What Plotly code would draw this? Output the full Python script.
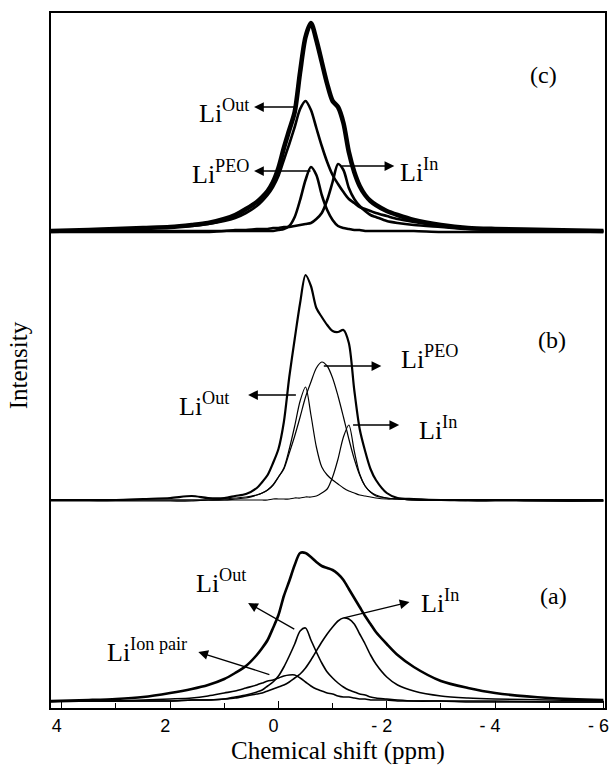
import plotly.graph_objects as go

# Chemical shift grid (ppm) shared by every curve
SHIFT = [4.2, 3.5, 3.0, 2.5, 2.0, 1.6, 1.3, 1.0, 0.8, 0.6, 0.4, 0.3, 0.2, 0.1, 0.0,
         -0.1, -0.2, -0.3, -0.4, -0.5, -0.6, -0.7, -0.8, -0.9, -1.0, -1.1, -1.2,
         -1.3, -1.4, -1.5, -1.6, -1.7, -1.8, -2.0, -2.2, -2.5, -3.0, -3.5, -4.0,
         -5.0, -6.0]

# (c) measured spectrum and its fitted components (intensity above baseline)
C_TOTAL = [1, 2, 3, 4, 5, 7, 9, 13, 17, 23, 30, 35, 41, 50, 64, 84, 102, 120, 160, 195,
           209, 192, 170, 148, 131, 125, 109, 80, 60, 46, 37, 31, 27, 21, 17, 12, 7, 4, 3, 2, 1]
C_OUT = [1, 2, 3, 4, 5, 6, 8, 11, 14, 19, 26, 31, 37, 45, 56, 72, 88, 105, 123, 131,
         122, 104, 86, 70, 57, 48, 40, 33, 29, 25, 23, 21, 19, 16, 13, 10, 6, 4, 3, 2, 1]
C_PEO = [0, 0, 0, 0, 0, 0, 0, 1, 1, 1, 1, 1, 1, 1, 2, 3, 6, 15, 32, 52,
         65, 57, 37, 22, 12, 6, 4, 3, 2, 2, 1, 1, 1, 1, 1, 1, 0, 0, 0, 0, 0]
C_IN = [1, 1, 1, 1, 1, 1, 1, 1, 2, 2, 3, 3, 3, 4, 4, 5, 5, 6, 7, 8,
        9, 13, 19, 32, 50, 68, 62, 44, 33, 26, 21, 17, 15, 11, 9, 7, 5, 3, 2, 1, 1]

# (b)
B_TOTAL = [1, 1, 1, 2, 3, 5, 3, 3, 5, 7, 13, 19, 26, 38, 52, 79, 124, 162, 198, 226,
           215, 193, 184, 176, 170, 169, 171, 158, 111, 72, 50, 32, 21, 8, 3, 2, 1, 1, 1, 1, 1]
B_OUT = [1, 1, 1, 1, 1, 1, 1, 2, 3, 4, 6, 8, 11, 16, 24, 33, 52, 75, 100, 114,
         86, 54, 34, 26, 21, 17, 13, 10, 8, 6, 5, 4, 3, 2, 2, 1, 1, 1, 1, 0, 0]
B_PEO = [1, 1, 1, 1, 1, 1, 1, 1, 2, 3, 6, 8, 11, 16, 24, 32, 48, 65, 84, 104,
         119, 133, 139, 135, 123, 105, 84, 62, 42, 26, 15, 9, 5, 3, 2, 1, 1, 1, 1, 0, 0]
B_IN = [0, 0, 0, 0, 0, 0, 1, 1, 1, 1, 1, 1, 1, 2, 2, 2, 2, 3, 3, 4,
        4, 5, 8, 12, 24, 42, 64, 76, 50, 27, 15, 9, 6, 3, 2, 1, 1, 0, 0, 0, 0]

# (a)
A_TOTAL = [1, 2, 3, 5, 9, 13, 17, 23, 29, 36, 47, 54, 62, 74, 87, 106, 121, 137, 149, 149,
           145, 140, 136, 134, 132, 128, 122, 113, 104, 95, 86, 78, 70, 58, 47, 35, 21, 14, 9, 4, 2]
A_OUT = [1, 1, 1, 1, 1, 2, 2, 3, 5, 7, 10, 12, 16, 20, 26, 35, 46, 58, 71, 74,
         62, 50, 39, 30, 24, 19, 15, 12, 10, 8, 7, 5, 4, 3, 2, 1, 1, 1, 1, 0, 0]
A_IN = [1, 1, 1, 1, 1, 2, 2, 3, 4, 6, 8, 9, 11, 13, 15, 17, 20, 24, 28, 34,
        42, 51, 60, 68, 75, 81, 84, 83, 78, 68, 58, 47, 38, 25, 17, 11, 6, 4, 3, 2, 1]
A_ION_PAIR = [0, 1, 1, 2, 3, 4, 6, 9, 11, 14, 17, 19, 21, 22, 24, 26, 27, 27, 24, 20,
              16, 13, 11, 9, 8, 6, 5, 5, 4, 3, 3, 2, 2, 2, 1, 1, 1, 0, 0, 0, 0]

TICK_VALUES = [4, 2, 0, -2, -4, -6]
TICK_TEXT = ["4", "2", "0", "- 2", "- 4", "- 6"]
MINOR_TICKS = [3, 1, -1, -3, -5]

# vertical stacking of the three spectra (baseline of each panel)
BASELINE = {"a": 6, "b": 207, "c": 476}

SERIF = "Liberation Serif, Times New Roman, serif"
SANS = "Liberation Sans, Arial, sans-serif"

fig = go.Figure()

panels = [
    ("c", [(C_TOTAL, 4.6), (C_OUT, 2.6), (C_PEO, 2.6), (C_IN, 2.6)]),
    ("b", [(B_TOTAL, 2.2), (B_OUT, 1.2), (B_PEO, 1.2), (B_IN, 1.2)]),
    ("a", [(A_TOTAL, 2.6), (A_OUT, 1.6), (A_IN, 1.6), (A_ION_PAIR, 1.6)]),
]
for key, curves in panels:
    base = BASELINE[key]
    for values, width in curves:
        fig.add_trace(go.Scatter(
            x=SHIFT, y=[base + v for v in values], mode="lines",
            line=dict(color="black", width=width, shape="spline", smoothing=0.8),
            showlegend=False, hoverinfo="skip"))


def label(x, y, text, anchor="center", size=26):
    fig.add_annotation(x=x, y=y, xref="x", yref="y", text=text, showarrow=False,
                       xanchor=anchor, yanchor="middle",
                       font=dict(family=SERIF, size=size, color="black"))


def arrow(x0, y0, x1, y1):
    fig.add_annotation(x=x1, y=y1, ax=x0, ay=y0, xref="x", yref="y",
                       axref="x", ayref="y", text="", showarrow=True,
                       arrowhead=2, arrowsize=1.5, arrowwidth=1.3,
                       arrowcolor="black", standoff=0, startstandoff=0)


# (c)
arrow(-0.37, 601, 0.45, 601)
label(0.51, 597, "Li<sup>Out</sup>", "right")
arrow(-0.62, 537, 0.45, 537)
label(0.51, 536, "Li<sup>PEO</sup>", "right")
arrow(-1.14, 542, -2.14, 542)
label(-2.2, 538, "Li<sup>In</sup>", "left")
label(-4.89, 633, "(c)", size=24)

# (b)
arrow(-0.35, 313, 0.56, 313)
label(0.87, 304, "Li<sup>Out</sup>", "right")
arrow(-0.81, 342, -1.9, 342)
label(-2.23, 351, "Li<sup>PEO</sup>", "left")
arrow(-1.35, 283, -2.23, 283)
label(-2.55, 280, "Li<sup>In</sup>", "left")
label(-5.05, 368, "(b)", size=24)

# (a)
arrow(-0.32, 78, 0.56, 105)
label(1.06, 127, "Li<sup>Out</sup>")
arrow(0.14, 33, 1.48, 56)
label(1.66, 58, "Li<sup>Ion pair</sup>", "right")
arrow(-1.2, 90, -2.42, 106)
label(-2.6, 107, "Li<sup>In</sup>", "left")
label(-5.07, 112, "(a)", size=24)

# axis titles
fig.add_annotation(x=0.518, y=-0.062, xref="paper", yref="paper",
                   text="Chemical shift (ppm)", showarrow=False,
                   xanchor="center", yanchor="middle",
                   font=dict(family=SERIF, size=25, color="black"))
fig.add_annotation(x=-0.059, y=0.4935, xref="paper", yref="paper",
                   text="Intensity", showarrow=False, textangle=-90,
                   xanchor="center", yanchor="middle",
                   font=dict(family=SERIF, size=25, color="black"))

fig.update_layout(
    width=610, height=772,
    margin=dict(l=51, r=1, t=13, b=64),
    paper_bgcolor="white", plot_bgcolor="white",
    xaxis=dict(range=[4.2, -6.03], showline=True, mirror=True, linecolor="black",
               linewidth=2, showgrid=False, zeroline=False,
               ticks="inside", ticklen=7, tickwidth=1.2, tickcolor="black",
               tickvals=TICK_VALUES, ticktext=TICK_TEXT,
               ticklabelshift=5, ticklabeloverflow="allow",
               tickfont=dict(family=SANS, size=18, color="black"),
               minor=dict(tickvals=MINOR_TICKS, ticks="inside", ticklen=5,
                          tickwidth=1.2, tickcolor="black")),
    yaxis=dict(range=[0, 695], showline=True, mirror=True, linecolor="black",
               linewidth=1.5, showgrid=False, zeroline=False,
               showticklabels=False, ticks=""),
)

fig.write_html("out.html")
